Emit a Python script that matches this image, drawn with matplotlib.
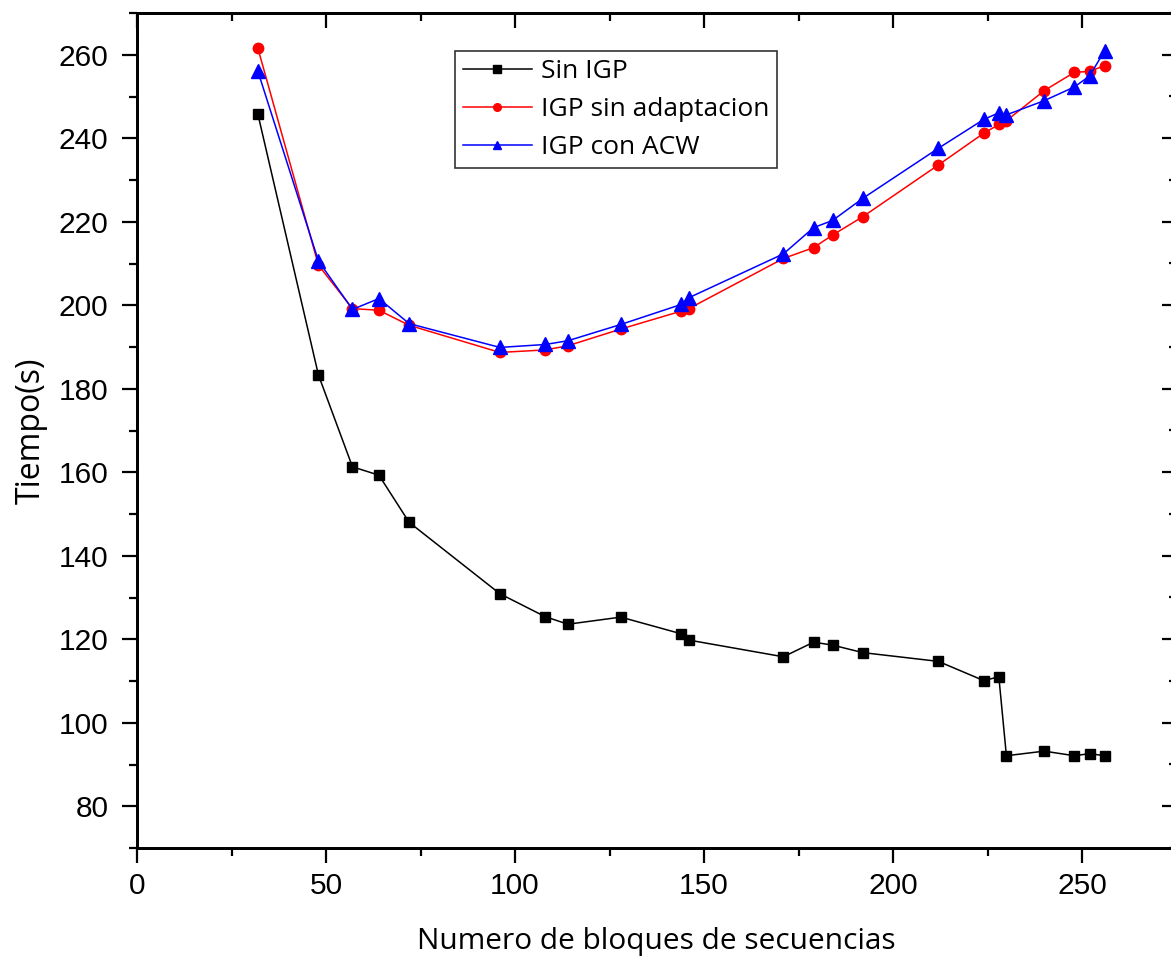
import matplotlib
matplotlib.use("Agg")
import matplotlib.pyplot as plt
from matplotlib.ticker import MultipleLocator

# block counts on the x axis
bloques = [32, 48, 57, 64, 72, 96, 108, 114, 128, 144, 146, 171, 179, 184,
           192, 212, 224, 228, 230, 240, 248, 252, 256]

sin_igp = [245.7, 183.3, 161.3, 159.3, 148.0, 130.9, 125.4, 123.6, 125.3,
           121.3, 119.8, 115.8, 119.3, 118.6, 116.8, 114.7, 110.1, 111.0,
           92.1, 93.2, 92.1, 92.6, 92.1]
igp_sin_adapt = [261.5, 209.6, 199.2, 198.8, 195.2, 188.7, 189.3, 190.3,
                 194.3, 198.6, 199.2, 211.2, 213.8, 216.8, 221.2, 233.6,
                 241.2, 243.3, 244.2, 251.4, 255.8, 256.0, 257.4]
igp_con_acw = [256.0, 210.6, 199.0, 201.6, 195.6, 189.9, 190.6, 191.5,
               195.4, 200.2, 201.8, 212.3, 218.6, 220.3, 225.6, 237.6,
               244.5, 246.1, 245.6, 249.0, 252.3, 254.9, 261.0]

label_font = "Open Sans"
tick_font = "Liberation Sans"
XLIM = (0, 275)
YLIM = (70, 270)

fig = plt.figure(figsize=(11.71, 9.63), dpi=100)
ax = fig.add_axes([137 / 1171, 115 / 963, 1039.5 / 1171, 835 / 963])

ax.plot(bloques, sin_igp, color="black", marker="s", markersize=7.2,
        linewidth=1.1, label="Sin IGP")
ax.plot(bloques, igp_sin_adapt, color="red", marker="o", markersize=7.5,
        linewidth=1.1, label="IGP sin adaptacion")
ax.plot(bloques, igp_con_acw, color="blue", marker="^", markersize=9.5,
        linewidth=1.1, label="IGP con ACW")

ax.set_xlim(*XLIM)
ax.set_ylim(*YLIM)
ax.xaxis.set_major_locator(MultipleLocator(50))
ax.xaxis.set_minor_locator(MultipleLocator(25))
ax.yaxis.set_major_locator(MultipleLocator(20))
ax.yaxis.set_minor_locator(MultipleLocator(10))

for s in ax.spines.values():
    s.set_linewidth(1.8)

# bottom/left ticks point out
ax.tick_params(which="both", direction="out", width=1.6, top=False, right=False)
ax.tick_params(which="major", length=11, labelsize=21.5)
ax.tick_params(which="minor", length=6)
ax.tick_params(axis="x", pad=6)
ax.tick_params(axis="y", pad=9.5)
for lbl in ax.get_xticklabels() + ax.get_yticklabels():
    lbl.set_fontfamily(tick_font)

# top/right ticks point in
top = ax.twiny()
top.set_xlim(*XLIM)
top.xaxis.set_major_locator(MultipleLocator(50))
top.xaxis.set_minor_locator(MultipleLocator(25))
right = ax.twinx()
right.set_ylim(*YLIM)
right.yaxis.set_major_locator(MultipleLocator(20))
right.yaxis.set_minor_locator(MultipleLocator(10))
for tw in (top, right):
    for s in tw.spines.values():
        s.set_linewidth(1.8)
    tw.tick_params(which="both", direction="in", width=1.6,
                   labeltop=False, labelright=False)
    tw.tick_params(which="major", length=11)
    tw.tick_params(which="minor", length=6)

ax.set_xlabel("Numero de bloques de secuencias", fontfamily=label_font,
              fontsize=21.5, labelpad=20)
ax.set_ylabel("Tiempo(s)", fontfamily=label_font, fontsize=23, labelpad=8)

leg = ax.legend(loc="upper left", bbox_to_anchor=(0.306, 0.9545),
                borderaxespad=0,
                prop={"family": label_font, "size": 19}, fancybox=False,
                edgecolor="#333333", framealpha=1, handlelength=2.6,
                handletextpad=0.35, labelspacing=0.5, borderpad=0.3)
leg.get_frame().set_linewidth(1.2)
leg.set_zorder(10)
for h in leg.legend_handles:
    h.set_markersize(5.5)

fig.savefig("out.png", dpi=100)
